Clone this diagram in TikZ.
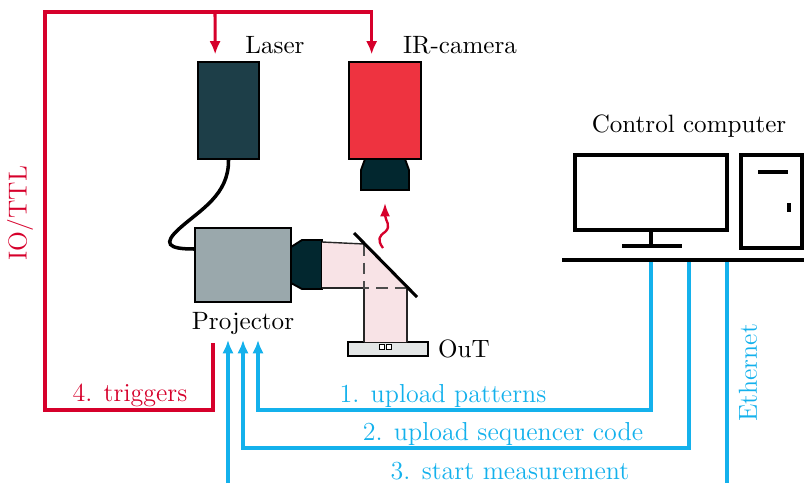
\documentclass[tikz,border=0pt]{standalone}
\usetikzlibrary{positioning,arrows.meta,calc}
\definecolor{cttl}{HTML}{D6002B}
\definecolor{ceth}{HTML}{14B1EC}
\definecolor{claser}{HTML}{1D3E48}
\definecolor{ccam}{HTML}{EE3340}
\definecolor{clens}{HTML}{02272F}
\definecolor{cproj}{HTML}{9AA8AC}
\definecolor{cbeam}{HTML}{F8E3E6}
\definecolor{cout}{HTML}{E3E6E6}
\tikzset{
  dev/.style={rectangle, draw=black, line width=0.8pt, inner sep=0pt},
  pc/.style={rectangle, draw=black, line width=1.7pt, inner sep=0pt},
  ttl/.style={line width=1.3pt, draw=cttl},
  eth/.style={line width=1.3pt, draw=ceth},
  tip/.style={-{Latex[length=0.2cm,width=0.17cm]}},
  lbl/.style={inner sep=1pt, font=\fontsize{10.7}{13}\selectfont},
  sig/.style={inner sep=1pt, font=\fontsize{11.1}{13}\selectfont}
}

\begin{document}
\begin{tikzpicture}[x=0.015cm, y=-0.015cm]
\useasboundingbox (0,0) rectangle (804,483);

% optical setup
\node[dev, fill=claser, minimum width=0.915cm, minimum height=1.455cm] (laser) at (228.5,110.5) {};
\node[dev, fill=ccam, minimum width=1.08cm, minimum height=1.455cm] (cam) at (385,110.5) {};
\node[dev, fill=cproj, minimum width=1.44cm, minimum height=1.11cm] (proj) at (243,265) {};
\node[dev, fill=cout, line width=0.6pt, minimum width=1.2cm, minimum height=0.21cm] (out) at (388,349) {};

\node[lbl] at (275,45) {Laser};
\node[lbl] at (460,45) {IR-camera};
\node[lbl, below=0.1cm of proj] (plbl) {Projector};
\node[lbl, right=0.1cm of out] {OuT};

% camera lens and projector lens
\draw[line width=0.8pt, fill=clens] (365,159) -- (405,159) -- (409,170) -- (409,190)
  -- (361,190) -- (361,170) -- cycle;
\draw[line width=0.8pt, fill=clens] (291,247) -- (302,240) -- (322,240) -- (322,289)
  -- (302,289) -- (291,283) -- cycle;

% beam folded by the mirror
\fill[cbeam] (322,242) -- (364,244) -- (407,287) -- (407,342) -- (364,342)
  -- (364,288) -- (322,288) -- cycle;
\draw[line width=0.6pt, black!85] (322,242) -- (364,244);
\draw[line width=0.6pt, black!85] (322,288) -- (364,288) -- (364,342);
\draw[line width=0.6pt, black!85] (407,287) -- (407,342);
\draw[line width=0.7pt, black!70, dash pattern=on 5pt off 3pt] (364,244) -- (364,288) -- (407,288);
\draw[line width=1.3pt] (354,233) -- (417,297);
\fill[white] (379,344) rectangle (384,349); \draw[line width=0.4pt] (379,344) rectangle (384,349);
\fill[white] (386,344) rectangle (391,349); \draw[line width=0.4pt] (386,344) rectangle (391,349);

% heat from the object
\draw[cttl, line width=1pt, -{Latex[length=0.2cm,width=0.15cm]}] (383,248)
  .. controls (377,240) and (379,236) .. (385,232)
  .. controls (392,226) and (385,220) .. (385,203);

% laser cable
\draw[line width=1.5pt] (laser.south) .. controls (229,195) and (200,210) .. (180,228)
  .. controls (162,244) and (168,249) .. ([yshift=0.24cm]proj.west);

% control computer
\node[pc, minimum width=2.28cm, minimum height=1.125cm] (mon) at (651,192.5) {};
\node[pc, minimum width=0.915cm, minimum height=1.395cm] (tower) at (771.5,201.5) {};
\node[lbl] at (689,126) {Control computer};
\draw[line width=1.7pt] (mon.south) -- (651,246);
\draw[line width=1.7pt] (622,246) -- (682,246);
\draw[line width=1.7pt] (758,172) -- (788,172);
\draw[line width=1.7pt] (788.5,203) -- (788.5,212);
\draw[line width=1.4pt] (562,260) -- (804,260);

% IO/TTL triggers
\coordinate (trig) at (213,343);
\draw[ttl, tip] (trig) |- (45,410) -- (45,12) -| ([xshift=-0.2cm,yshift=0.1cm]cam.north);
\draw[ttl, tip] (215,12) -- ([xshift=-0.2cm,yshift=0.1cm]laser.north);
\node[sig, text=cttl] at (130,395) {4. triggers};
\node[sig, text=cttl, rotate=90] at (20,213) {IO/TTL};

% ethernet links
\coordinate (in1) at (258,340);
\coordinate (in2) at (243,340);
\coordinate (in3) at (228,340);
\draw[eth, tip] (651,262) |- (258,410) -- (in1);
\draw[eth, tip] (689,262) |- (243,448) -- (in2);
\draw[eth, tip] (228,483) -- (in3);
\draw[eth] (727,262) -- (727,483);
\node[sig, text=ceth] at (443,396) {1. upload patterns};
\node[sig, text=ceth] at (503,434) {2. upload sequencer code};
\node[sig, text=ceth] at (510,471) {3. start measurement};
\node[sig, text=ceth, rotate=90] at (748,373) {Ethernet};
\end{tikzpicture}
\end{document}
